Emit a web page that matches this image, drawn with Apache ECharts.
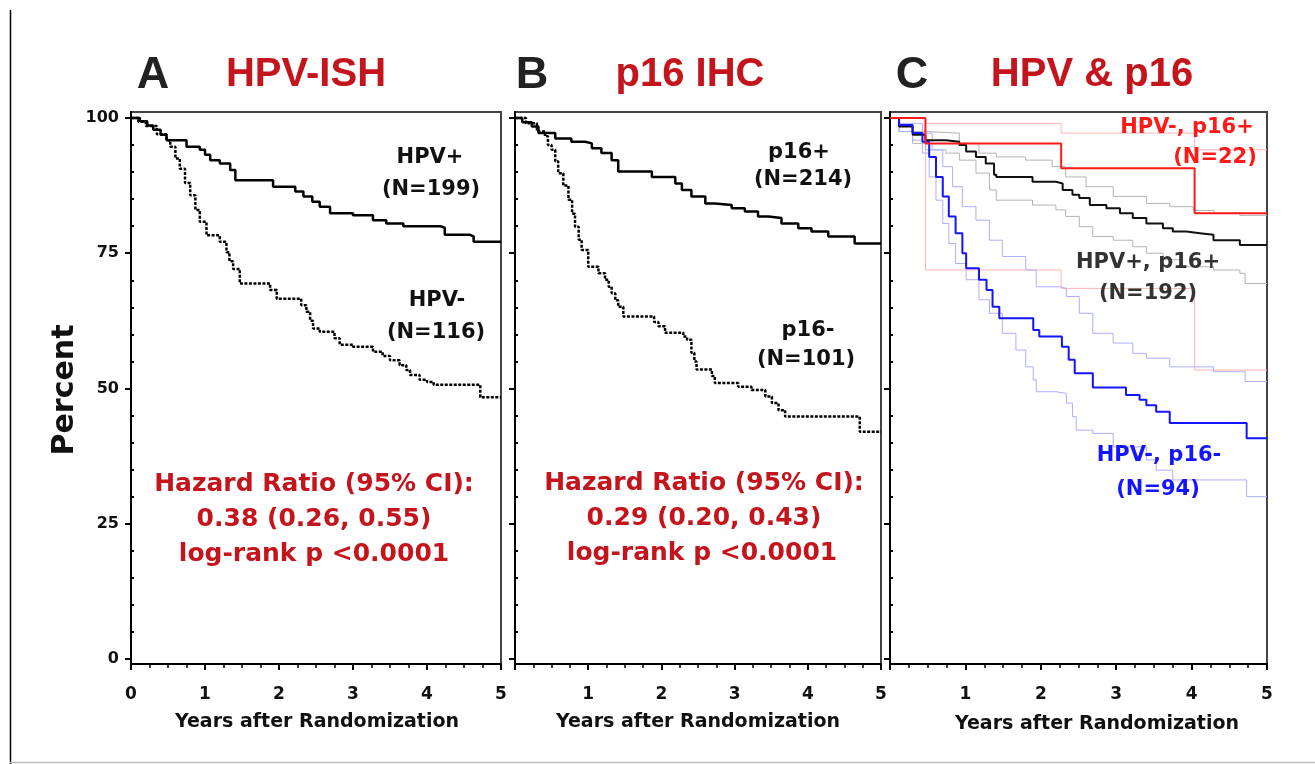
<!DOCTYPE html>
<html>
<head>
<meta charset="utf-8">
<script src="https://cdn.jsdelivr.net/npm/echarts@6/dist/echarts.min.js"></script>
<style>
  html, body { margin: 0; padding: 0; background: #ffffff; }
  #chart { width: 1315px; height: 764px; }
</style>
</head>
<body>
<div id="chart"></div>
<script>
// ---- Axis ticks ----
const yearTicks = [0, 1, 2, 3, 4, 5];
const percentTicks = [0, 25, 50, 75, 100];
const percentMinorTicks = [5, 10, 15, 20, 30, 35, 40, 45, 55, 60, 65, 70, 80, 85, 90, 95];

// ---- Panel A: HPV-ISH (Kaplan-Meier, [years, percent surviving]) ----
const hpvPos = [[0,100],[0.12,99.4],[0.22,98.6],[0.3,97.8],[0.4,96.9],[0.48,95.9],[0.75,94.7],[0.93,94.1],[1.0,93.2],[1.07,92.2],[1.2,91.6],[1.34,90.4],[1.41,88.5],[1.92,87.3],[2.22,86.4],[2.33,85.5],[2.45,84.5],[2.55,83.6],[2.69,82.4],[3.0,82.0],[3.27,81.1],[3.45,80.5],[3.68,80.0],[4.18,79.7],[4.24,78.4],[4.58,78.1],[4.63,77.1],[5.0,77.1]];
const hpvNeg = [[0,100],[0.1,99.3],[0.2,98.5],[0.35,97],[0.48,95.9],[0.53,94.7],[0.6,92.5],[0.66,90.6],[0.73,88],[0.8,85.7],[0.87,83],[0.93,80.8],[1.02,78.3],[1.2,77.1],[1.29,75.2],[1.33,73.5],[1.38,72.1],[1.47,69.4],[1.88,68.2],[1.97,66.6],[2.3,65.4],[2.37,64.2],[2.42,62.5],[2.46,61.1],[2.55,60.5],[2.75,59.3],[2.82,58.1],[3.0,57.7],[3.27,56.8],[3.4,56.0],[3.5,55.2],[3.63,54.3],[3.72,53.4],[3.77,52.5],[3.9,51.6],[4.0,51.2],[4.09,50.7],[4.72,48.4],[5.0,48.4]];

// ---- Panel B: p16 IHC ----
const p16Pos = [[0,100],[0.1,99.2],[0.23,98.4],[0.32,97.2],[0.55,96.2],[0.77,95.6],[0.96,95.3],[1.05,94.4],[1.18,93.5],[1.32,92.2],[1.41,90.1],[1.87,89.1],[2.19,87.9],[2.28,86.7],[2.41,85.5],[2.6,84.2],[2.73,83.9],[2.96,83.3],[3.14,82.7],[3.32,81.8],[3.46,81.5],[3.64,80.5],[3.87,79.6],[4.05,79.0],[4.28,78.1],[4.64,76.8],[5.0,76.8]];
const p16Neg = [[0,100],[0.15,99],[0.3,97.5],[0.41,96.6],[0.45,95],[0.5,94.1],[0.55,92],[0.59,89.8],[0.66,87.5],[0.73,84.9],[0.78,82.3],[0.82,79.9],[0.87,77.5],[0.91,75.6],[1.0,72.5],[1.14,71.3],[1.23,70.1],[1.28,68.8],[1.32,67.6],[1.37,66.3],[1.41,65.1],[1.48,63.3],[1.9,62.3],[1.96,61.5],[2.05,60.3],[2.3,59.6],[2.35,59.0],[2.41,56.6],[2.45,55],[2.48,53.5],[2.69,52.3],[2.73,51.0],[3.05,50.3],[3.23,49.7],[3.42,48.5],[3.51,47.3],[3.6,46.0],[3.69,44.8],[4.71,42.0],[5.0,42.0]];

// ---- Panel C: HPV & p16 combined, with 95% confidence bands ----
const hpvPosP16Pos = [[0,100],[0.12,98.4],[0.3,96.9],[0.47,95.9],[0.74,95.6],[0.92,95.0],[1.01,93.8],[1.14,92.8],[1.27,91.6],[1.38,89.5],[1.41,89.1],[1.89,88.2],[2.2,87.9],[2.29,86.7],[2.42,85.8],[2.51,85.2],[2.65,83.9],[2.87,83.3],[3.05,82.4],[3.22,81.5],[3.4,80.5],[3.62,79.6],[3.75,79.0],[3.93,78.7],[4.11,78.4],[4.29,77.4],[4.64,76.5],[5.0,76.5]];
const hpvPosP16PosHi = [[0,100],[0.12,98.7],[0.3,97.5],[0.47,97.2],[0.92,95.3],[1.18,93.5],[1.41,92.8],[1.8,92.2],[2.15,91.0],[2.33,89.1],[2.6,87.3],[2.96,85.5],[3.4,84.2],[3.71,83.6],[4.02,82.9],[4.3,82.4],[4.64,82.0],[5.0,82.0]];
const hpvPosP16PosLo = [[0,100],[0.12,97.5],[0.3,95.3],[0.47,94.1],[0.74,93.5],[0.92,92.2],[1.14,89.8],[1.32,86.7],[1.41,84.8],[1.89,83.9],[2.2,83.0],[2.33,81.8],[2.51,79.9],[2.69,78.1],[2.96,77.4],[3.22,76.2],[3.4,75.0],[3.62,73.8],[3.85,72.5],[4.29,71.9],[4.64,71.3],[4.71,69.4],[5.0,69.4]];

const hpvNegP16Pos = [[0,100],[0.47,95.3],[2.27,90.7],[4.04,82.4],[5.0,82.4]];
const hpvNegP16PosHi = [[0,100],[0.47,99.0],[2.27,97.2],[4.04,94.1],[5.0,94.1]];
const hpvNegP16PosLo = [[0,100],[0.47,71.9],[2.27,68.5],[4.04,53.4],[5.0,53.4]];

const hpvNegP16Neg = [[0,100],[0.12,98.7],[0.3,97.2],[0.43,95.6],[0.52,92.8],[0.61,89.1],[0.7,85.5],[0.78,81.8],[0.87,78.7],[0.96,75.0],[1.01,72.2],[1.18,70.1],[1.28,68.2],[1.36,65.1],[1.45,63.0],[1.9,60.8],[1.98,59.6],[2.28,57.7],[2.37,55.3],[2.45,52.8],[2.69,50.2],[3.13,48.8],[3.31,47.9],[3.4,46.9],[3.53,45.7],[3.71,43.6],[4.73,40.8],[5.0,40.8]];
const hpvNegP16NegHi = [[0,100],[0.12,99.0],[0.43,97.2],[0.56,94.1],[0.7,91.0],[0.83,87.3],[0.96,83.6],[1.14,81.1],[1.32,77.4],[1.49,74.4],[1.8,71.9],[1.94,68.8],[2.25,68.5],[2.34,67.0],[2.51,63.9],[2.69,60.2],[2.96,58.4],[3.22,56.5],[3.4,55.6],[3.71,54.0],[4.29,53.1],[4.71,51.3],[5.0,51.3]];
const hpvNegP16NegLo = [[0,100],[0.12,97.5],[0.3,95.9],[0.43,93.5],[0.52,89.1],[0.61,84.8],[0.7,80.5],[0.78,76.8],[0.87,73.1],[1.01,70.1],[1.18,66.4],[1.32,63.9],[1.49,60.2],[1.67,57.1],[1.8,54.0],[1.9,51.6],[1.94,49.4],[2.2,49.1],[2.34,47.3],[2.42,44.8],[2.47,42.3],[2.69,41.7],[2.96,39.2],[3.4,36.8],[3.53,34.9],[3.75,33.1],[4.73,30.0],[5.0,30.0]];

// ---- Styling ----
const FONT = '"DejaVu Sans", "Liberation Sans", Arial, sans-serif';
const TITLE_FONT = '"Liberation Sans", Arial, sans-serif';
const RED_TEXT = '#c4141c';
const Y_MIN = -0.92, Y_MAX = 101.1;

const panels = [
  { left: 131, width: 370, yLabels: true },
  { left: 515, width: 366, yLabels: false },
  { left: 890, width: 377, yLabels: false }
];

const grids = panels.map(p => ({
  left: p.left, top: 112, width: p.width, height: 552,
  show: true, borderColor: '#444', borderWidth: 2, backgroundColor: '#fff'
}));

const xAxes = panels.map((p, i) => ({
  type: 'value', gridIndex: i, min: 0, max: 5, interval: 1,
  axisLine: { show: true, onZero: false, lineStyle: { color: '#000', width: 2 } },
  axisTick: { show: true, length: 6, lineStyle: { color: '#000', width: 2 } },
  minorTick: { show: true, splitNumber: 4, length: 4, lineStyle: { color: '#000', width: 1.5 } },
  splitLine: { show: false },
  axisLabel: {
    margin: 22, color: '#111', fontFamily: FONT, fontWeight: 'bold', fontSize: 17,
    formatter: v => (i > 0 && v === yearTicks[0]) ? '' : String(v)
  }
}));

const yAxes = [];
panels.forEach((p, i) => {
  yAxes.push({
    type: 'value', gridIndex: i, min: Y_MIN, max: Y_MAX,
    axisLine: { show: true, onZero: false, lineStyle: { color: '#000', width: 2 } },
    axisTick: { show: true, length: 6, customValues: percentTicks, lineStyle: { color: '#000', width: 2 } },
    splitLine: { show: false },
    axisLabel: {
      show: p.yLabels, customValues: percentTicks, margin: 12,
      color: '#111', fontFamily: FONT, fontWeight: 'bold', fontSize: 16
    }
  });
  yAxes.push({
    type: 'value', gridIndex: i, min: Y_MIN, max: Y_MAX,
    axisLine: { show: false },
    axisTick: { show: true, length: 3, customValues: percentMinorTicks, lineStyle: { color: '#000', width: 2 } },
    splitLine: { show: false },
    axisLabel: { show: false }
  });
});

function km(data, panel, color, width, type, z) {
  return {
    type: 'line', step: 'end', data: data,
    xAxisIndex: panel, yAxisIndex: panel * 2,
    showSymbol: false, symbol: 'none', silent: true,
    lineStyle: { color: color, width: width, type: type || 'solid' },
    z: z || 2
  };
}

const series = [
  km(hpvPos, 0, '#000', 2.5, 'solid', 3),
  km(hpvNeg, 0, '#000', 2.5, [3, 1.5], 3),
  km(p16Pos, 1, '#000', 2.5, 'solid', 3),
  km(p16Neg, 1, '#000', 2.5, [3, 1.5], 3),
  km(hpvNegP16PosHi, 2, '#ffb3b3', 1, 'solid', 1),
  km(hpvNegP16PosLo, 2, '#ffb3b3', 1, 'solid', 1),
  km(hpvPosP16PosHi, 2, '#b4b4b4', 1, 'solid', 1),
  km(hpvPosP16PosLo, 2, '#b4b4b4', 1, 'solid', 1),
  km(hpvNegP16NegHi, 2, '#adadff', 1, 'solid', 1),
  km(hpvNegP16NegLo, 2, '#adadff', 1, 'solid', 1),
  km(hpvPosP16Pos, 2, '#111', 2, 'solid', 3),
  km(hpvNegP16Neg, 2, '#1414ff', 2, 'solid', 3),
  km(hpvNegP16Pos, 2, '#ff1a1a', 2, 'solid', 4)
];

function text(x, y, str, size, color, family, extra) {
  return Object.assign({
    type: 'text', x: x, y: y, silent: true, z: 10,
    style: {
      text: str, fill: color, font: 'bold ' + size + 'px ' + (family || FONT),
      align: 'center', verticalAlign: 'middle',
      textAlign: 'center', textVerticalAlign: 'middle'
    }
  }, extra || {});
}

const graphics = [
  // page frame
  { type: 'line', silent: true, shape: { x1: 10.5, y1: 10, x2: 10.5, y2: 764 }, style: { stroke: '#000', lineWidth: 1.5 } },
  { type: 'line', silent: true, shape: { x1: 10, y1: 762.5, x2: 1315, y2: 762.5 }, style: { stroke: '#bbb', lineWidth: 1.5 } },
  // panel letters and titles
  text(153, 76, 'A', 45, '#222', TITLE_FONT),
  text(306, 75, 'HPV-ISH', 40, RED_TEXT, TITLE_FONT),
  text(532, 76, 'B', 45, '#222', TITLE_FONT),
  text(690, 75, 'p16 IHC', 40, RED_TEXT, TITLE_FONT),
  text(912, 76, 'C', 45, '#222', TITLE_FONT),
  text(1092, 75, 'HPV & p16', 40, RED_TEXT, TITLE_FONT),
  // y axis title
  text(65, 390, 'Percent', 30, '#111', FONT, { rotation: Math.PI / 2 }),
  // x axis titles
  text(317, 722, 'Years after Randomization', 19, '#111'),
  text(698, 722, 'Years after Randomization', 19, '#111'),
  text(1097, 724, 'Years after Randomization', 19, '#111'),
  // panel A annotations
  text(430, 158, 'HPV+', 21, '#111'),
  text(431, 190, '(N=199)', 21, '#111'),
  text(437, 301, 'HPV-', 21, '#111'),
  text(436, 333, '(N=116)', 21, '#111'),
  text(314, 484, 'Hazard Ratio (95% CI):', 25, RED_TEXT),
  text(314, 519, '0.38 (0.26, 0.55)', 25, RED_TEXT),
  text(314, 554, 'log-rank p <0.0001', 25, RED_TEXT),
  // panel B annotations
  text(799, 153, 'p16+', 21, '#111'),
  text(803, 180, '(N=214)', 21, '#111'),
  text(808, 331, 'p16-', 21, '#111'),
  text(806, 360, '(N=101)', 21, '#111'),
  text(704, 483, 'Hazard Ratio (95% CI):', 25, RED_TEXT),
  text(704, 518, '0.29 (0.20, 0.43)', 25, RED_TEXT),
  text(702, 553, 'log-rank p <0.0001', 25, RED_TEXT),
  // panel C annotations
  text(1187, 128, 'HPV-, p16+', 21, '#ff1a1a'),
  text(1215, 158, '(N=22)', 21, '#ff1a1a'),
  text(1148, 263, 'HPV+, p16+', 21, '#333'),
  text(1148, 294, '(N=192)', 21, '#333'),
  text(1159, 456, 'HPV-, p16-', 21, '#1414ff'),
  text(1158, 490, '(N=94)', 21, '#1414ff')
];

const chart = echarts.init(document.getElementById('chart'), null, { renderer: 'canvas' });
chart.setOption({
  animation: false,
  backgroundColor: '#ffffff',
  grid: grids,
  xAxis: xAxes,
  yAxis: yAxes,
  series: series,
  graphic: graphics
});
</script>
</body>
</html>
